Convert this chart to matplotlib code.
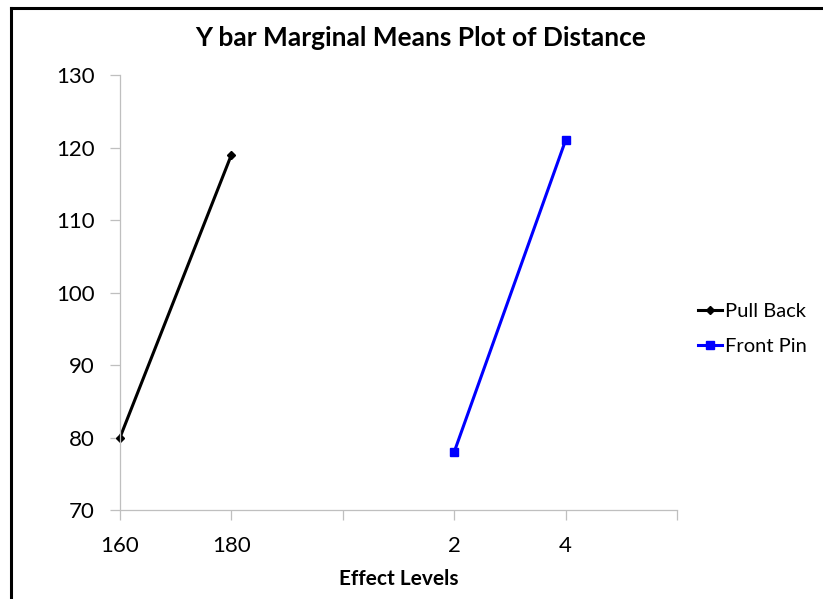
import numpy as np
import matplotlib.pyplot as plt
from matplotlib.lines import Line2D

# Kategoriler (Excel tarzı kategori ekseni)
categories = ["160", "180", "", "2", "4", ""]
pull_back_pos = [0, 1]
pull_back = [80, 119]
front_pin_pos = [3, 4]
front_pin = [78, 121]
y_ticks = [70, 80, 90, 100, 110, 120, 130]

plt.rcParams['font.family'] = ['Lato', 'DejaVu Sans']

fig = plt.figure(figsize=(8.23, 5.99), dpi=100)
ax = fig.add_axes([120/823, 89/599, 557/823, 435/599])

ax.plot(pull_back_pos, pull_back, color="black", lw=2.2, marker="D", ms=4.5,
        label="Pull Back", clip_on=False)
ax.plot(front_pin_pos, front_pin, color="#0000ff", lw=2.2, marker="s", ms=6,
        label="Front Pin", clip_on=False)

ax.set_xlim(0, len(categories) - 1)
ax.set_ylim(70, 130)
ax.set_xticks(range(len(categories)))
ax.set_xticklabels(categories)
ax.set_yticks(y_ticks)

for s in ["top", "right"]:
    ax.spines[s].set_visible(False)
for s in ["left", "bottom"]:
    ax.spines[s].set_color("#bfbfbf")
    ax.spines[s].set_linewidth(0.9)
ax.tick_params(axis="both", colors="#bfbfbf", length=7, width=0.9,
               labelcolor="black", labelsize=16)
ax.tick_params(axis="y", pad=11)
ax.tick_params(axis="x", pad=12)

ax.set_xlabel("Effect Levels", fontsize=15, fontweight="bold", labelpad=9)
fig.text(421/823, 1 - 38/599, "Y bar Marginal Means Plot of Distance",
         ha="center", va="center", fontsize=19, fontweight="bold")

fig.legend(loc="center left", bbox_to_anchor=(698/823, 1 - 329/599),
           frameon=False, fontsize=14.5, handlelength=1.2, handletextpad=0.15,
           labelspacing=0.85, borderaxespad=0, borderpad=0)

# Çerçeve
fig.add_artist(Line2D([11/823, 11/823], [0, 1 - 8/599], transform=fig.transFigure,
                      color="black", lw=2.2))
fig.add_artist(Line2D([11/823, 1], [1 - 8/599, 1 - 8/599], transform=fig.transFigure,
                      color="black", lw=2.2))

fig.savefig("out.png", dpi=100)
